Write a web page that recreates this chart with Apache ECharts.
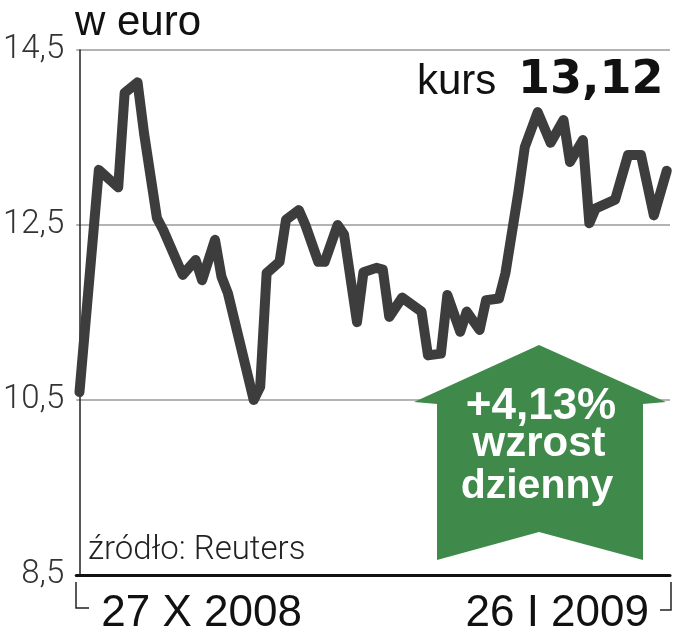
<!DOCTYPE html>
<html>
<head>
<meta charset="utf-8">
<script src="https://cdn.jsdelivr.net/npm/echarts@6/dist/echarts.min.js"></script>
<style>
html,body{margin:0;padding:0;background:#fff;}
#c{width:674px;height:640px;}
</style>
</head>
<body>
<div id="c"></div>
<script>
// Day offsets from 27 X 2008 (calendar days)
var days = [0,3,6,7,9,10,12,13,16,18,19,21,22,23,27,28,29,31,32,34,35,37,38,40,41,43,44,46,47,48,50,53,54,56,57,59,60,62,63,65,66,67,68,69,71,73,75,76,78,79,80,83,85,87,89,91];
// Price in euro
var prices = [10.59,13.13,12.93,14.01,14.13,13.55,12.58,12.44,11.93,12.10,11.87,12.33,11.91,11.72,10.50,10.65,11.95,12.08,12.56,12.67,12.50,12.08,12.08,12.50,12.39,11.39,11.96,12.01,11.99,11.45,11.67,11.51,11.01,11.03,11.70,11.28,11.51,11.30,11.64,11.66,11.95,12.41,12.87,13.39,13.79,13.44,13.70,13.22,13.47,12.52,12.69,12.79,13.30,13.30,12.61,13.12];
var xTickLabels = ['27 X 2008', '26 I 2009'];
var yTicks = [8.5, 10.5, 12.5, 14.5];
var titleText = 'w euro';
var kursLabel = 'kurs';
var kursValue = '13,12';
var changeText = ['+4,13%', 'wzrost', 'dzienny'];
var sourceText = 'źródło: Reuters';

var seriesData = days.map(function (d, i) { return [d, prices[i]]; });

var chart = echarts.init(document.getElementById('c'), null, {renderer: 'canvas'});
var green = '#3f8a4b';
chart.setOption({
  animation: false,
  backgroundColor: '#fff',
  grid: {left: 75, right: 4, top: 50, bottom: 65},
  xAxis: {
    type: 'value',
    min: -0.5, max: 91.5, interval: 92,
    splitLine: {show: false},
    axisTick: {show: false},
    axisLine: {show: true, lineStyle: {color: '#111', width: 3}},
    axisLabel: {
      show: true,
      customValues: [-0.5, 91.5],
      alignMinLabel: 'left',
      alignMaxLabel: 'right',
      showMinLabel: true, showMaxLabel: true,
      padding: [0, 21, 0, 25],
      margin: 17,
      color: '#111',
      fontFamily: 'Liberation Sans',
      fontSize: 44,
      formatter: function (v) { return v < 45 ? xTickLabels[0] : xTickLabels[1]; }
    }
  },
  yAxis: {
    type: 'value',
    min: yTicks[0], max: yTicks[yTicks.length - 1], interval: 2,
    axisLine: {show: true, lineStyle: {color: '#222', width: 1.5}},
    axisTick: {show: false},
    splitLine: {show: true, lineStyle: {color: '#9a9a9a', width: 1.5}},
    axisLabel: {
      customValues: yTicks,
      margin: 12,
      color: '#333',
      fontFamily: 'Roboto',
      fontWeight: 300,
      fontSize: 33,
      formatter: function (v) { return v.toFixed(1).replace('.', ','); }
    }
  },
  series: [{
    type: 'line',
    data: seriesData,
    symbol: 'none',
    lineStyle: {color: '#3d3d3d', width: 10, join: 'round', cap: 'round'},
    z: 5
  }],
  graphic: [
    {type: 'text', x: 75, y: 23, style: {text: titleText, font: '42px "Liberation Sans"', fill: '#111', verticalAlign: 'middle', align: 'left'}},
    {type: 'text', x: 417, y: 82, style: {text: kursLabel, font: '42px "Liberation Sans"', fill: '#111', verticalAlign: 'middle', align: 'left'}},
    {type: 'text', x: 518, y: 81, style: {text: kursValue, font: 'bold 46px "DejaVu Sans"', fill: '#111', verticalAlign: 'middle', align: 'left'}},
    {type: 'text', x: 88, y: 551, style: {text: sourceText, font: '300 33px Roboto', fill: '#222', verticalAlign: 'middle', align: 'left'}},
    {type: 'polyline', shape: {points: [[76,582],[76,608],[89,608]]}, style: {stroke: '#222', lineWidth: 1.5, fill: null}},
    {type: 'polyline', shape: {points: [[671,582],[671,610],[660,610]]}, style: {stroke: '#222', lineWidth: 1.5, fill: null}},
    {type: 'polygon', z: 10, shape: {points: [[539,345],[666,402],[643,404],[643,560],[539,532],[437,560],[437,404],[414,402]]}, style: {fill: green}},
    {type: 'text', z: 11, x: 541, y: 407, style: {text: changeText[0], font: 'bold 44px "Liberation Sans"', fill: '#fff', verticalAlign: 'middle', align: 'center'}},
    {type: 'text', z: 11, x: 539, y: 444, style: {text: changeText[1], font: 'bold 42px "Liberation Sans"', fill: '#fff', verticalAlign: 'middle', align: 'center'}},
    {type: 'text', z: 11, x: 537, y: 487, style: {text: changeText[2], font: 'bold 41px "Liberation Sans"', fill: '#fff', verticalAlign: 'middle', align: 'center'}}
  ]
});
</script>
</body>
</html>
